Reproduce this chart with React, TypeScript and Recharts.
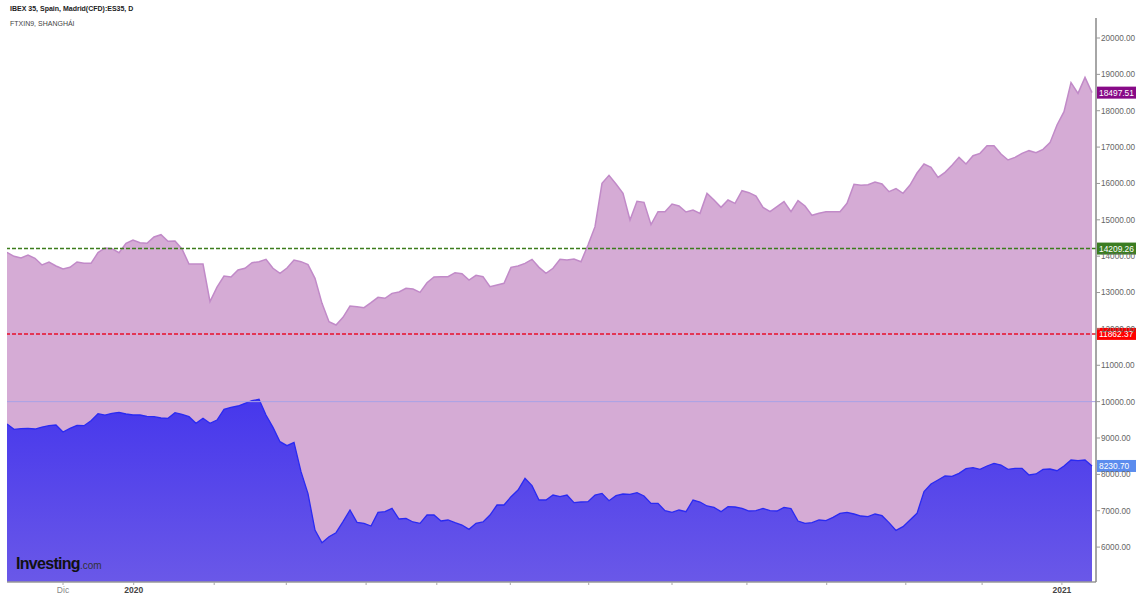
import {
  ComposedChart, Area, XAxis, YAxis, ReferenceLine,
} from 'recharts'

// FTXIN9 (Shanghai) daily closes, sampled every other session, Nov 2019 - Jan 2021
const ftxin9 = [
  14106, 13996, 13950, 14032, 13941, 13758, 13840, 13730, 13647, 13693,
  13840, 13803, 13803, 14097, 14225, 14207, 14097, 14353, 14445, 14372,
  14353, 14527, 14591, 14408, 14417, 14197, 13785, 13785, 13785, 12750,
  13150, 13455, 13427, 13620, 13666, 13821, 13849, 13913, 13666, 13528,
  13675, 13895, 13849, 13767, 13391, 12703, 12199, 12107, 12318, 12630,
  12611, 12584, 12721, 12868, 12841, 12978, 13015, 13116, 13097, 13006,
  13271, 13427, 13437, 13437, 13547, 13519, 13345, 13473, 13437, 13161,
  13207, 13253, 13693, 13730, 13803, 13913, 13693, 13528,
  13666, 13913, 13895, 13922, 13849, 14307, 14812, 16003, 16223, 15985,
  15727, 14995, 15508, 15481, 14866, 15224, 15224, 15435, 15380, 15215,
  15270, 15178, 15727, 15545, 15343, 15545, 15453, 15802, 15747, 15655,
  15343, 15224, 15362, 15499, 15224, 15526, 15380, 15123, 15178,
  15224, 15224, 15224, 15453, 15976, 15948, 15967, 16040, 15985, 15774,
  15857, 15728, 15957, 16287, 16535, 16443, 16168, 16306, 16498, 16718,
  16535, 16764, 16828, 17039, 17039, 16810, 16645, 16718, 16828, 16902,
  16847, 16938, 17122, 17607, 17974, 18772, 18478, 18918, 18497.51,
]

// IBEX 35 on the same sessions
const ibex35 = [
  9385, 9238, 9256, 9266, 9247, 9302, 9339, 9357, 9165, 9266,
  9348, 9339, 9476, 9669, 9632, 9678, 9705, 9660, 9632, 9632,
  9596, 9586, 9550, 9541, 9696, 9650, 9586, 9403, 9541, 9403,
  9495, 9788, 9843, 9880, 9953, 10026, 10063, 9632, 9293, 8899,
  8789, 8880, 8074, 7469, 6470, 6121, 6286, 6396, 6699, 7020,
  6680, 6653, 6580, 6955, 6974, 7065, 6772, 6790, 6690, 6653,
  6882, 6882, 6717, 6745, 6672, 6607, 6488, 6653, 6690, 6882,
  7157, 7157, 7386, 7570, 7890, 7689, 7295, 7295,
  7432, 7386, 7432, 7221, 7240, 7249, 7432, 7478, 7276, 7414,
  7460, 7450, 7496, 7405, 7203, 7203, 7001, 6955, 7020, 6974,
  7295, 7240, 7130, 7093, 6974, 7111, 7102, 7065, 6992, 7001,
  7065, 7001, 6992, 7093, 7056, 6717, 6653, 6672, 6745,
  6726, 6818, 6928, 6955, 6910, 6855, 6837, 6910, 6864, 6672,
  6461, 6561, 6745, 6928, 7524, 7735, 7845, 7955, 7946, 8028,
  8156, 8184, 8138, 8230, 8303, 8257, 8138, 8166, 8166, 7983,
  8010, 8138, 8147, 8101, 8230, 8395, 8376, 8395, 8230.7,
]

// month starts, in sessions from the first point
const monthTicks = [8, 18.1, 29.6, 39.9, 51.3, 61.4, 71.9, 83.1, 95, 105.7, 117.1, 128.4, 139.3, 150.7]
const monthLabels = ['Dic', '2020', '', '', '', '', '', '', '', '', '', '', '', '2021']

const priceTicks = [6000, 7000, 8000, 9000, 10000, 11000, 12000, 13000, 14000, 15000, 16000, 17000, 18000, 19000, 20000]
const upperLevel = 14209.26
const lowerLevel = 11862.37
const baseLevel = 10000

const rows = ftxin9.map((v, i) => ({ i, ftx: v, ibex: ibex35[i] }))
const lastFtx = ftxin9[ftxin9.length - 1]
const lastIbex = ibex35[ibex35.length - 1]

const FONT = '"Liberation Sans", Arial, sans-serif'

function Tag({ viewBox, text, bg }: any) {
  const { x, y, width } = viewBox
  const left = x + width + 1
  return (
    <g>
      <rect x={left} y={y - 6} width={39} height={12} fill={bg} />
      <text x={left + 2} y={y + 3} fontSize={8.4} fill="#fff" fontFamily={FONT}>{text}</text>
    </g>
  )
}

function MonthTick({ x, y, payload }: any) {
  const idx = monthTicks.indexOf(payload.value)
  const label = monthLabels[idx] || ''
  const isYear = /^\d+$/.test(label)
  return (
    <text x={x} y={y + 6} textAnchor="middle" fontSize={8.5} fontFamily={FONT}
      fill={isYear ? '#444' : '#888'} fontWeight={isYear ? 'bold' : 'normal'}>
      {label}
    </text>
  )
}

export default function App() {
  return (
    <div style={{ position: 'absolute', left: 0, top: 0, width: 1137, height: 597, background: '#fff', fontFamily: FONT }}>
      <ComposedChart width={1137} height={597} data={rows} margin={{ top: 18, right: 0, left: 7, bottom: 0 }}>
        <defs>
          <linearGradient id="ibexFill" x1="0" y1="0" x2="0" y2="1">
            <stop offset="0%" stopColor="#4637ec" />
            <stop offset="100%" stopColor="#6a58e8" />
          </linearGradient>
        </defs>
        <XAxis
          dataKey="i"
          type="number"
          domain={[0, 155.57]}
          ticks={monthTicks}
          interval={0}
          tick={(p: any) => <MonthTick {...p} />}
          tickSize={3}
          tickLine={{ stroke: '#aaa' }}
          axisLine={{ stroke: '#999', strokeWidth: 1.5 }}
          height={15}
          allowDataOverflow
        />
        <YAxis
          orientation="right"
          type="number"
          domain={[5040, 20550]}
          ticks={priceTicks}
          interval={0}
          tickFormatter={(v: number) => v.toFixed(2)}
          tick={{ fontSize: 8.2, fill: '#666', fontFamily: FONT }}
          tickSize={4}
          tickMargin={1}
          tickLine={{ stroke: '#999' }}
          axisLine={{ stroke: '#888', strokeWidth: 1.5 }}
          width={41}
          allowDataOverflow
        />
        <Area
          type="linear"
          dataKey="ftx"
          stroke="#c18ac8"
          strokeWidth={1.5}
          fill="#d5abd5"
          fillOpacity={1}
          isAnimationActive={false}
          dot={false}
          activeDot={false}
        />
        <ReferenceLine y={baseLevel} stroke="#a9a2e6" strokeWidth={1} />
        <Area
          type="linear"
          dataKey="ibex"
          stroke="#2a2af2"
          strokeWidth={1.3}
          fill="url(#ibexFill)"
          fillOpacity={1}
          isAnimationActive={false}
          dot={false}
          activeDot={false}
        />
        <ReferenceLine y={upperLevel} stroke="#3c7d1c" strokeWidth={1.5} strokeDasharray="4 2"
          label={<Tag text={upperLevel.toFixed(2)} bg="#3b7d22" />} />
        <ReferenceLine y={lowerLevel} stroke="#e8102a" strokeWidth={1.5} strokeDasharray="4 2"
          label={<Tag text={lowerLevel.toFixed(2)} bg="#ff0000" />} />
        <ReferenceLine y={lastFtx} stroke="none" label={<Tag text={lastFtx.toFixed(2)} bg="#870a87" />} />
        <ReferenceLine y={lastIbex} stroke="none" label={<Tag text={lastIbex.toFixed(2)} bg="#5b8cee" />} />
      </ComposedChart>

      <div style={{ position: 'absolute', left: 10, top: 5, fontSize: 7, fontWeight: 'bold', color: '#222' }}>
        IBEX 35, Spain, Madrid(CFD):ES35, D
      </div>
      <div style={{ position: 'absolute', left: 10, top: 20, fontSize: 7, color: '#444' }}>
        FTXIN9, SHANGHÁI
      </div>
      <div style={{ position: 'absolute', left: 16, top: 555, color: '#111', whiteSpace: 'nowrap' }}>
        <span style={{ fontSize: 16, fontWeight: 'bold', letterSpacing: -0.7 }}>Investing</span>
        <span style={{ fontSize: 10, color: '#333' }}>.com</span>
      </div>
    </div>
  )
}
